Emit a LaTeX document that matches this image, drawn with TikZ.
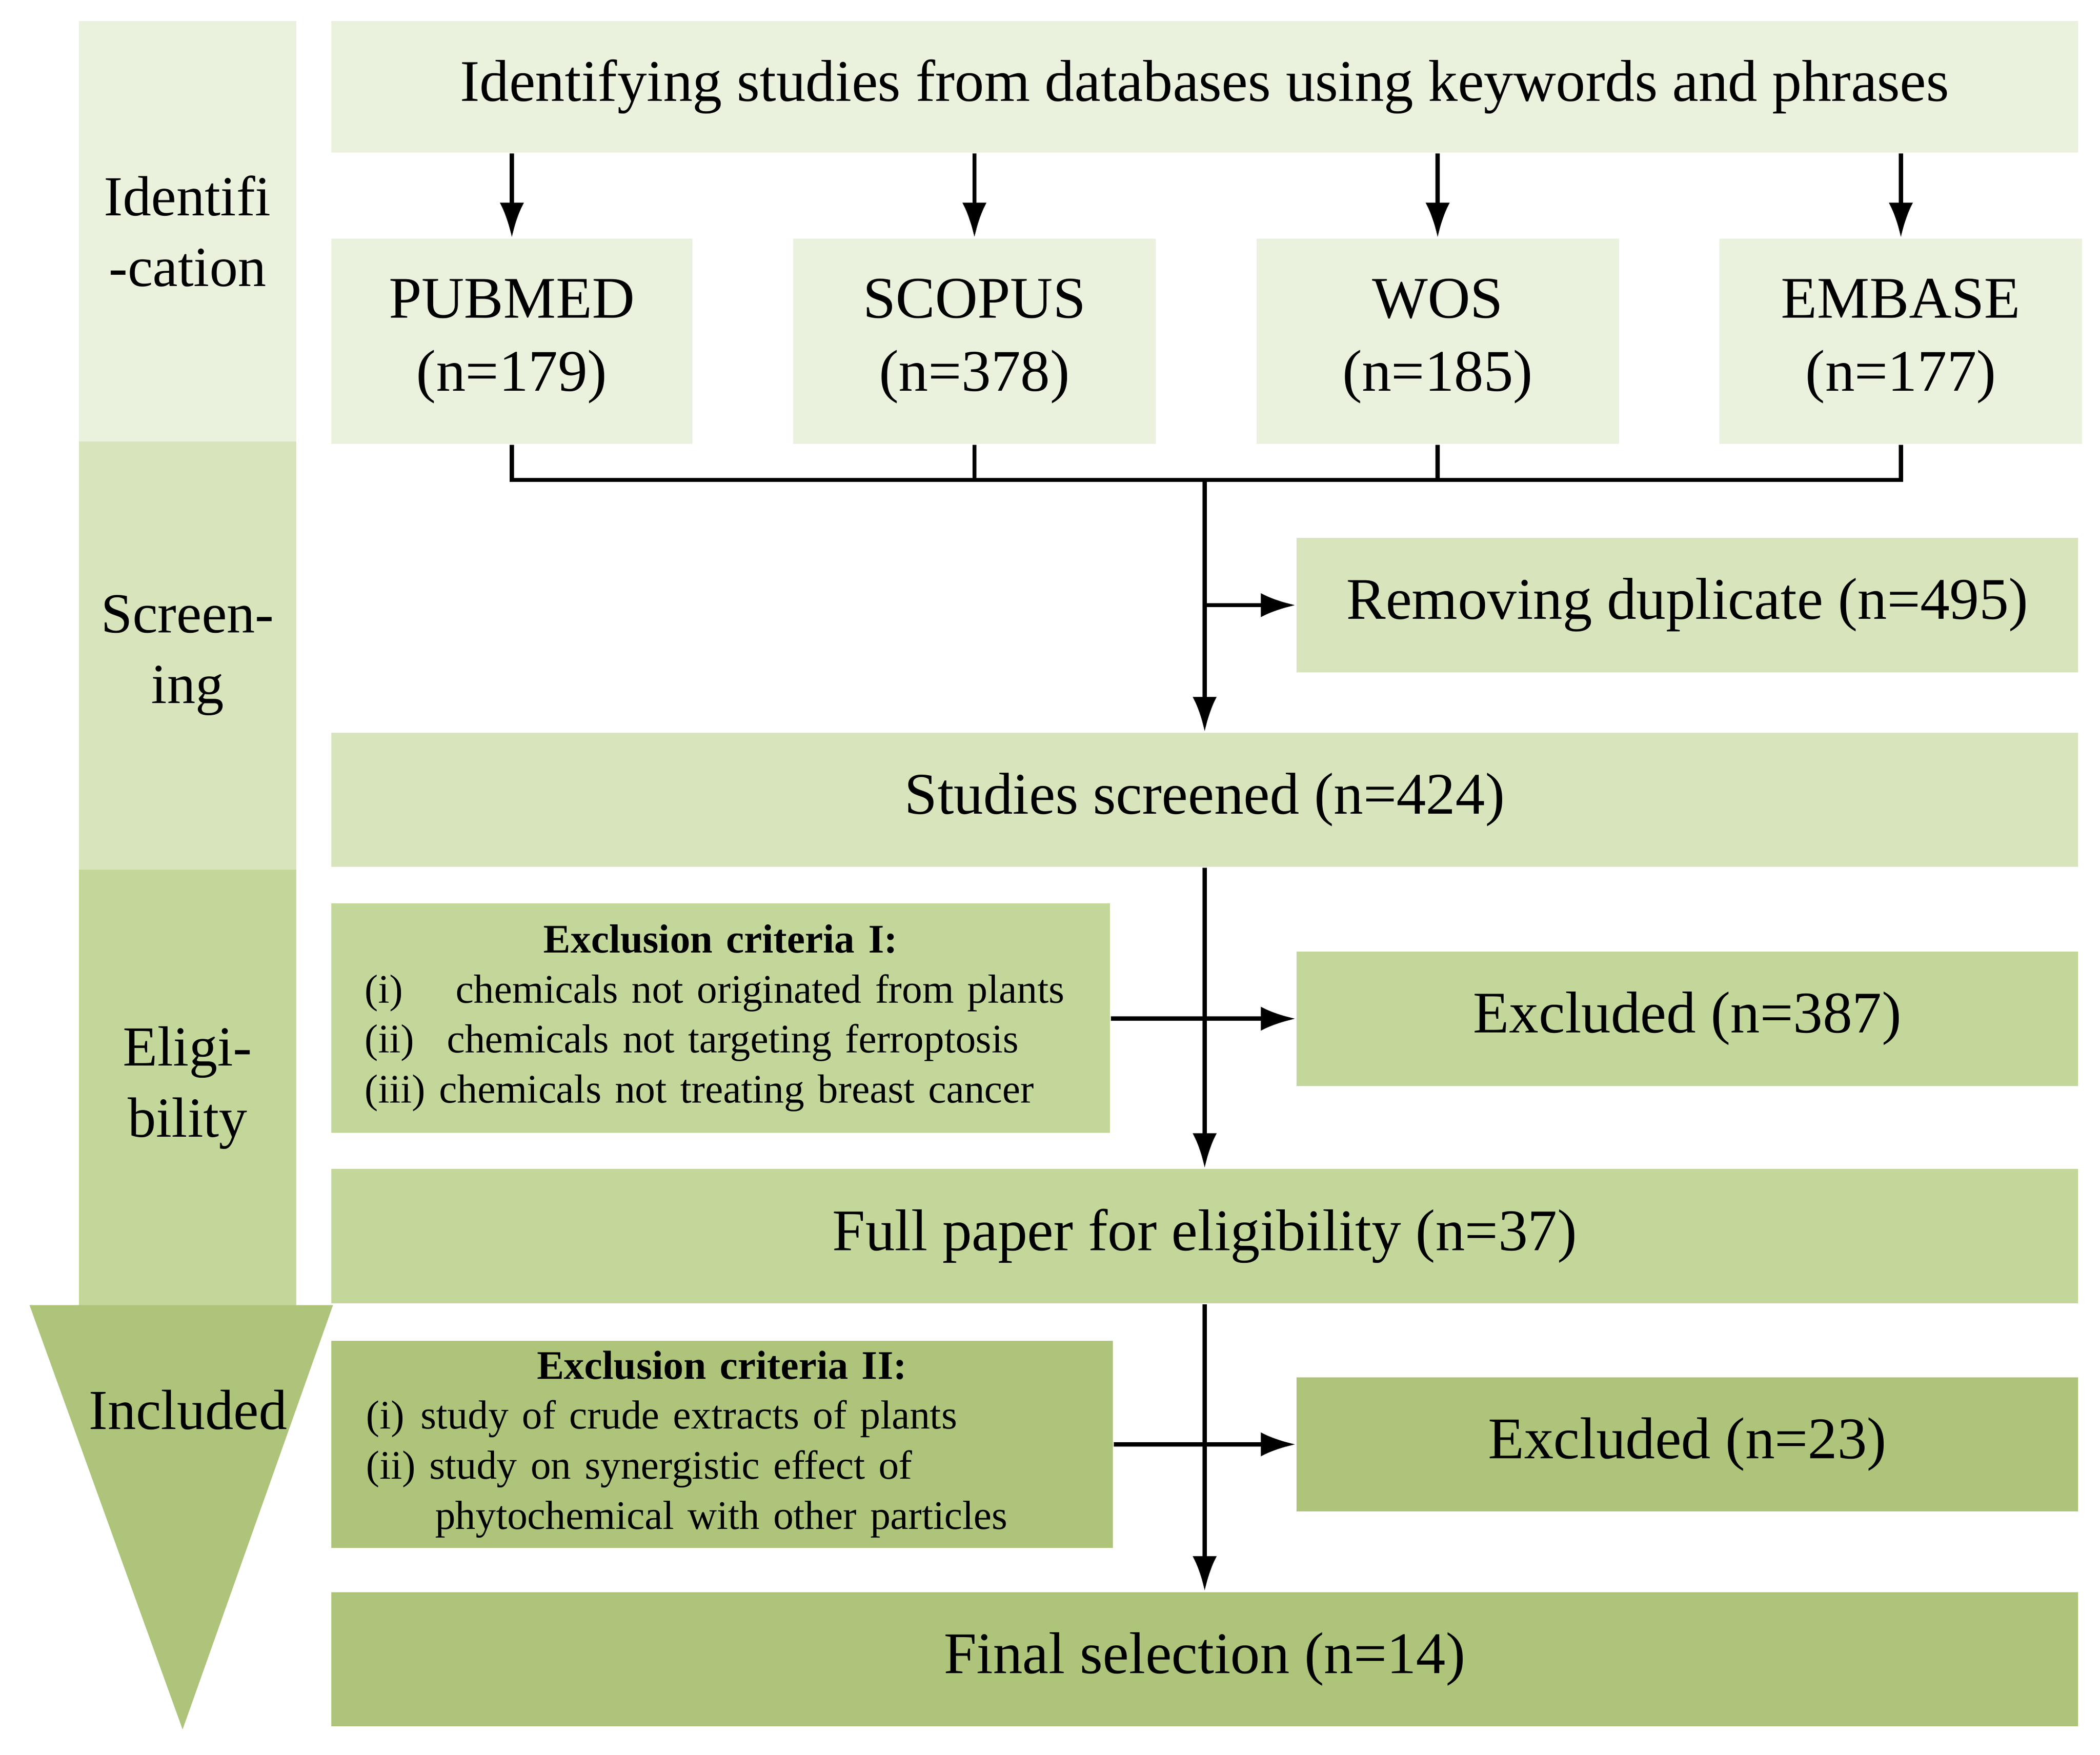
\documentclass[tikz,border=0pt]{standalone}
\usepackage{fontspec}
\setmainfont{Liberation Serif}
\usetikzlibrary{arrows.meta,calc}
\definecolor{idcol}{HTML}{EAF1DD}
\definecolor{scrcol}{HTML}{D8E4BC}
\definecolor{elcol}{HTML}{C4D79B}
\definecolor{incol}{HTML}{ADC47A}
\tikzset{box/.style={rectangle,anchor=north west,inner sep=0pt,align=center,font=\fontsize{12.5}{15.5}\selectfont},
		crit/.style={rectangle,anchor=north west,inner sep=0pt,align=left,font=\fontsize{8.6}{10.6}\selectfont},
		band/.style={rectangle,anchor=north west,inner sep=0pt,align=center,font=\fontsize{12}{15}\selectfont},
		Dedge/.style={-{Latex[length=2.6mm,width=1.8mm]},line width=0.9pt},
		edge/.style={line width=0.9pt}}
\begin{document}
\begin{tikzpicture}[x=1cm,y=1cm]
	\useasboundingbox (0,0) rectangle (15.64,-13.07);
	%left bands
	\node at (0.58,-0.15) [band,fill=idcol,minimum width=1.62cm,minimum height=3.13cm] (bid){Identifi\\-cation};
	\node at (0.58,-3.28) [band,fill=scrcol,minimum width=1.62cm,minimum height=3.19cm] (bscr){Screen-\\ing};
	\node at (0.58,-6.47) [band,fill=elcol,minimum width=1.62cm,minimum height=3.25cm] (bel){Eligi-\\bility};
	\fill[incol] (0.22,-9.72) -- (2.48,-9.72) -- (1.36,-12.88) -- cycle;
	\node at (1.4,-10.5) [font=\fontsize{12}{15}\selectfont] (bin){Included};
	%boxes
	\node at (2.46,-0.15) [box,fill=idcol,minimum width=13.01cm,minimum height=0.98cm] (top){Identifying studies from databases using keywords and phrases};
	\node at (2.46,-1.77) [box,fill=idcol,minimum width=2.69cm,minimum height=1.53cm] (pub){PUBMED\\(n=179)};
	\node at (5.90,-1.77) [box,fill=idcol,minimum width=2.70cm,minimum height=1.53cm] (sco){SCOPUS\\(n=378)};
	\node at (9.35,-1.77) [box,fill=idcol,minimum width=2.70cm,minimum height=1.53cm] (wos){WOS\\(n=185)};
	\node at (12.80,-1.77) [box,fill=idcol,minimum width=2.70cm,minimum height=1.53cm] (emb){EMBASE\\(n=177)};
	\node at (9.65,-4.00) [box,fill=scrcol,minimum width=5.82cm,minimum height=1.00cm] (dup){Removing duplicate (n=495)};
	\node at (2.46,-5.45) [box,fill=scrcol,minimum width=13.01cm,minimum height=1.00cm] (scr){Studies screened (n=424)};
	\node at (2.46,-6.72) [crit,fill=elcol,minimum width=5.80cm,minimum height=1.71cm,text width=5.3cm] (exa){\centerline{\bfseries Exclusion criteria I:}\\
		(i)\hspace{1.3em}chemicals not originated from plants\\
		(ii)\hspace{0.8em}chemicals not targeting ferroptosis\\
		(iii) chemicals not treating breast cancer};
	\node at (9.65,-7.08) [box,fill=elcol,minimum width=5.82cm,minimum height=1.00cm] (exc1){Excluded (n=387)};
	\node at (2.46,-8.70) [box,fill=elcol,minimum width=13.01cm,minimum height=1.00cm] (full){Full paper for eligibility (n=37)};
	\node at (2.46,-9.98) [crit,fill=incol,minimum width=5.82cm,minimum height=1.54cm,text width=5.3cm] (exb){\centerline{\bfseries Exclusion criteria II:}\\
		(i)\hspace{0.4em}study of crude extracts of plants\\
		(ii) study on synergistic effect of\\
		\hspace{1.7em}phytochemical with other particles};
	\node at (9.65,-10.25) [box,fill=incol,minimum width=5.82cm,minimum height=1.00cm] (exc2){Excluded (n=23)};
	\node at (2.46,-11.85) [box,fill=incol,minimum width=13.01cm,minimum height=1.00cm] (fin){Final selection (n=14)};
	%connectors
	\foreach \b in {pub,sco,wos,emb}
		\draw[Dedge] (top.south -| \b.north) -- (\b.north);
	\coordinate (bar) at ($(pub.south)+(0,-0.26)$);
	\coordinate (hub) at (bar -| scr.north);
	\draw[edge] (pub.south) |- (emb.south |- bar) -- (emb.south);
	\draw[edge] (sco.south) -- (sco.south |- bar);
	\draw[edge] (wos.south) -- (wos.south |- bar);
	\draw[Dedge] (hub) -- (scr.north);
	\draw[Dedge] (hub |- dup.west) -- (dup.west);
	\draw[Dedge] (scr.south) -- (full.north);
	\draw[Dedge] (exa.east |- exc1.west) -- (exc1.west);
	\draw[Dedge] (full.south) -- (fin.north);
	\draw[Dedge] (exb.east |- exc2.west) -- (exc2.west);
\end{tikzpicture}
\end{document}
